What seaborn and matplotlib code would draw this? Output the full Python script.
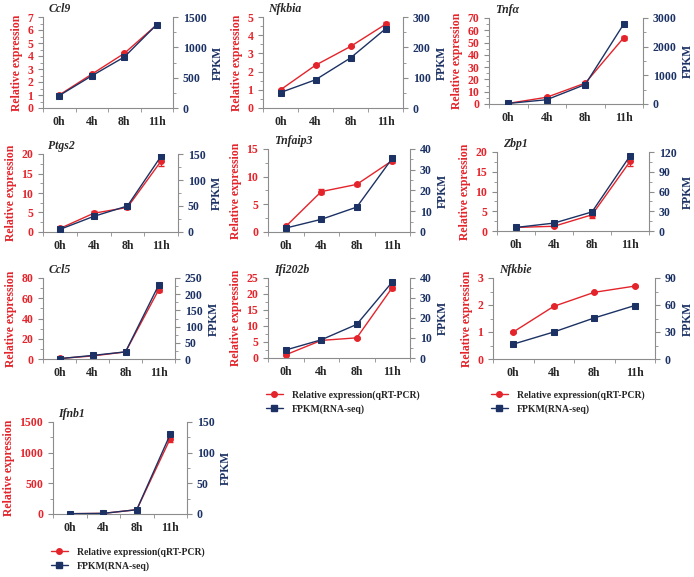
#! /usr/bin/env python3
import matplotlib
matplotlib.use('Agg')
import matplotlib.pyplot as plt
from matplotlib.lines import Line2D
import numpy as np
import seaborn as sns

# settings
sns.set_style("ticks")
plt.rcParams['font.family'] = ['Liberation Serif', 'DejaVu Serif']
plt.rcParams['font.weight'] = 'bold'
red = '#E4242B'
navy = '#1C3264'
grey = '#8C8C8C'

# data
times = ['0h', '4h', '8h', '11h']
genes = ['Ccl9', 'Nfkbia', 'Tnf\u03b1', 'Ptgs2', 'Tnfaip3', 'Zbp1',
         'Ccl5', 'Ifi202b', 'Nfkbie', 'Ifnb1']
rel_expr = [
    [1.0, 2.6, 4.2, 6.4],
    [1.0, 2.35, 3.38, 4.6],
    [0.5, 5.5, 17, 54],
    [0.9, 4.8, 6.3, 18.2],
    [1.0, 7.3, 8.6, 12.9],
    [0.9, 1.2, 4.1, 17.6],
    [0.5, 3.0, 7.0, 68],
    [1.0, 5.5, 6.3, 22],
    [1.0, 1.95, 2.47, 2.7],
    [5, 10, 70, 1230],
]
rel_err = [
    [0.05, 0.1, 0.1, 0.05],
    [0.05, 0.05, 0.05, 0.15],
    [0.3, 0.8, 1.0, 1.5],
    [0.1, 0.5, 0.3, 1.2],
    [0.1, 0.5, 0.2, 0.4],
    [0.1, 0.2, 0.8, 1.2],
    [0.2, 0.5, 0.5, 2.0],
    [0.1, 0.2, 0.3, 0.6],
    [0.03, 0.06, 0.03, 0.05],
    [2, 3, 10, 50],
]
fpkm = [
    [205, 530, 840, 1375],
    [51, 93, 165, 261],
    [20, 150, 680, 2790],
    [5, 30, 50, 146],
    [1.9, 6.1, 12, 35.5],
    [5.4, 12, 29, 114],
    [1, 11, 22, 227],
    [4, 9.1, 16.8, 38],
    [16.5, 30, 45.6, 59.4],
    [0.5, 1, 7, 130],
]
rel_ticks = [(7, 1), (5, 1), (70, 10), (20, 5), (15, 5), (20, 5), (80, 20), (25, 5), (3, 1), (1500, 500)]
fpkm_ticks = [(1500, 500), (300, 100), (3000, 1000), (150, 50), (40, 10), (120, 30), (250, 50), (40, 10), (90, 30), (150, 50)]

# panel boxes in pixels: left, top, right, bottom
W, H = 694, 577
boxes = [(43, 17, 173, 108), (263, 17, 403, 108), (489, 18, 643, 104),
         (43, 154, 178, 232), (268, 149, 410, 232), (497, 152, 649, 231),
         (43, 278, 175, 359), (268, 278, 410, 358), (493, 278, 655, 359),
         (53, 422, 187, 514)]
legend_at = [(266, 390), (491, 390), (51, 547)]

fig = plt.figure(figsize=(W / 100, H / 100), dpi=100)
xpos = np.arange(len(times))

for i, gene in enumerate(genes):
    l, t, r, b = boxes[i]
    ax = fig.add_axes([l / W, 1 - b / H, (r - l) / W, (b - t) / H])
    ax2 = ax.twinx()

    sns.lineplot(x=xpos, y=rel_expr[i], ax=ax, color=red, marker='o', markersize=4.2,
                 markeredgecolor=red, linewidth=1)
    ax.errorbar(xpos, rel_expr[i], yerr=rel_err[i], fmt='none', ecolor=red,
                elinewidth=0.8, capsize=2)
    sns.lineplot(x=xpos, y=fpkm[i], ax=ax2, color=navy, marker='s', markersize=4.2,
                 markeredgecolor=navy, linewidth=1)

    # axes limits and ticks
    ax.set_xlim(-0.5, 3.5)
    ax.set_xticks(xpos)
    ax.set_xticklabels(times, fontsize=8.5, fontweight='bold')
    ax.set_xticks(np.arange(-0.5, 3.6, 1), minor=True)
    ax.tick_params(axis='x', which='major', length=0, pad=6)
    ax.tick_params(axis='x', which='minor', length=3, color=grey, direction='out')

    top, step = rel_ticks[i]
    ax.set_ylim(0, top)
    ax.set_yticks(np.arange(0, top + step / 2, step))
    ax.set_yticks(np.arange(0, top + step / 4, step / 2), minor=True)
    ax.tick_params(axis='y', which='both', colors=grey, labelcolor=red, labelsize=8.5, direction='out')
    ax.tick_params(axis='y', which='minor', length=2)

    top2, step2 = fpkm_ticks[i]
    ax2.set_ylim(0, top2)
    ax2.set_yticks(np.arange(0, top2 + step2 / 2, step2))
    ax2.set_yticks(np.arange(0, top2 + step2 / 4, step2 / 2), minor=True)
    ax2.tick_params(axis='y', which='both', colors=grey, labelcolor=navy, labelsize=8.5, direction='out')
    ax2.tick_params(axis='y', which='minor', length=2)
    for lab in ax.get_yticklabels() + ax2.get_yticklabels():
        lab.set_fontweight('bold')

    ax.set_ylabel('Relative expression', color=red, fontsize=8.5, fontweight='bold', labelpad=3)
    ax2.set_ylabel('FPKM', color=navy, fontsize=8.5, fontweight='bold', labelpad=4)
    ax.set_xlabel('')

    for a in (ax, ax2):
        a.spines['top'].set_visible(False)
        for s in ('left', 'right', 'bottom'):
            a.spines[s].set_color(grey)
            a.spines[s].set_linewidth(0.8)
    ax.spines['right'].set_visible(False)
    ax2.spines['left'].set_visible(False)
    ax2.spines['bottom'].set_visible(False)

    ax.text(0.04, 1.02, gene, transform=ax.transAxes, fontsize=8.5, style='italic',
            fontweight='bold', va='bottom', ha='left')

# legends below the last panel of rows 3 and 4
handles = [Line2D([0], [0], color=red, marker='o', markersize=4, lw=1),
           Line2D([0], [0], color=navy, marker='s', markersize=4, lw=1)]
labels = ['Relative expression(qRT-PCR)', 'FPKM(RNA-seq)']
for x, y in legend_at:
    fig.legend(handles, labels, loc='upper left', bbox_to_anchor=(x / W, 1 - y / H),
               frameon=False, fontsize=7, handlelength=1.7, handletextpad=1.0,
               labelspacing=0.45, borderpad=0, borderaxespad=0)

fig.savefig('out.png', dpi=100)
plt.close()
